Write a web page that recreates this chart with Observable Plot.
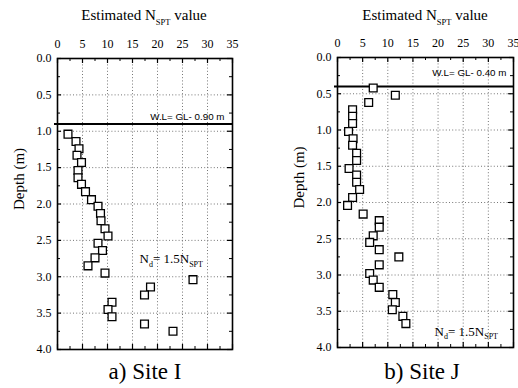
<!DOCTYPE html>
<html><head><meta charset="utf-8">
<script src="https://cdn.jsdelivr.net/npm/d3@7"></script>
<script src="https://cdn.jsdelivr.net/npm/@observablehq/plot@0.6"></script>
<style>
body{margin:0;background:#fff;}
#wrap{position:relative;width:518px;height:388px;overflow:hidden;font-family:"Liberation Serif","Times New Roman",serif;color:#000;}
#wrap svg{position:absolute;top:0;}
#wrap svg text{font-family:"Liberation Serif","Times New Roman",serif;}
#wrap svg text.sans{font-family:"Liberation Sans",Arial,sans-serif;}
.title{position:absolute;font-size:15px;line-height:1;white-space:nowrap;transform:translateX(-50%);}
.title sub{font-size:8.5px;vertical-align:baseline;position:relative;top:5px;}
.cap{position:absolute;font-size:23px;line-height:1;white-space:nowrap;transform:translateX(-50%);}
</style></head><body><div id="wrap"></div>
<script>
// Site I (a)
const siteIDepth = [1.04,1.14,1.24,1.33,1.43,1.54,1.64,1.73,1.83,1.94,2.03,2.13,2.23,2.34,2.44,2.54,2.64,2.74,2.85,2.95,3.04,3.14,3.25,3.35,3.45,3.55,3.65,3.75];
const siteIN     = [2.1,3.7,4.3,3.9,4.8,4.1,4.1,4.8,5.6,6.8,8.1,8.6,8.7,9.5,10.1,8.1,9.0,7.5,6.1,9.5,27.1,18.6,17.4,10.9,10.1,10.9,17.4,23.1];
// Site J (b)
const siteJDepth = [0.42,0.52,0.62,0.72,0.81,0.91,1.02,1.12,1.21,1.32,1.42,1.53,1.62,1.72,1.82,1.93,2.04,2.16,2.25,2.34,2.46,2.55,2.65,2.75,2.86,2.98,3.07,3.17,3.27,3.38,3.48,3.57,3.67];
const siteJN     = [7.1,11.5,6.2,3.0,3.0,3.0,2.2,3.1,3.0,3.8,3.8,2.3,3.8,3.8,4.4,3.0,2.0,5.1,8.3,8.3,7.1,6.4,8.3,12.2,8.3,6.4,7.1,8.3,11.0,11.5,10.9,13.0,13.6];
// water levels (m below ground)
const waterLevelI = 0.90;
const waterLevelJ = 0.40;
// axis ticks
const xTicks = [0,5,10,15,20,25,30,35];
const xMinorTicks = [2.5,7.5,12.5,17.5,22.5,27.5,32.5];
const yTicks = [0,0.5,1,1.5,2,2.5,3,3.5,4];
const yMinorTicks = [0.25,0.75,1.25,1.75,2.25,2.75,3.25,3.75];
// texts
const titleText = ["Estimated N", "SPT", " value"];
const yLabel = "Depth (m)";
const captions = ["a) Site I", "b) Site J"];
const wlTexts = ["W.L= GL- 0.90 m", "W.L= GL- 0.40 m"];
const relText = "N_d= 1.5N_SPT";

function subscriptify(svg) {
  const NS = "http://www.w3.org/2000/svg";
  svg.querySelectorAll("text").forEach(t => {
    if (t.textContent !== relText) return;
    while (t.firstChild) t.removeChild(t.firstChild);
    const parts = [["N",0,null],["d",3.5,"8px"],["= 1.5N",-3.5,null],["SPT",3.5,"8px"],["",-3.5,null]];
    parts.forEach(([s,dy,fs]) => {
      const sp = document.createElementNS(NS, "tspan");
      if (dy) sp.setAttribute("dy", dy);
      if (fs) sp.setAttribute("font-size", fs);
      sp.textContent = s;
      t.appendChild(sp);
    });
  });
}

function panel({depths, ns, wl, wlText, wlPos, relPos, left, width, mt, mb, ml, mr}) {
  const height = 388;
  const H = height - mt - mb;
  const W = width - ml - mr;
  const data = depths.map((d, i) => ({d, n: ns[i]}));
  const svg = Plot.plot({
    width, height,
    marginTop: mt, marginBottom: mb, marginLeft: ml, marginRight: mr,
    style: {fontSize: "11.5px", background: "transparent", overflow: "visible", color: "#000"},
    x: {domain: [0, 35]},
    y: {domain: [0, 4], reverse: true},
    marks: [
      Plot.gridX(xTicks, {stroke: "#666", strokeOpacity: 1, strokeWidth: 0.9, strokeDasharray: "1,2.2"}),
      Plot.gridY(yTicks, {stroke: "#666", strokeOpacity: 1, strokeWidth: 0.9, strokeDasharray: "1,2.2"}),
      // inward ticks on all four sides
      Plot.tickX(xTicks, {x: d => d, insetBottom: H - 5, strokeWidth: 1.2}),
      Plot.tickX(xMinorTicks, {x: d => d, insetBottom: H - 3, strokeWidth: 1}),
      Plot.tickX(xTicks, {x: d => d, insetTop: H - 5, strokeWidth: 1.2}),
      Plot.tickX(xMinorTicks, {x: d => d, insetTop: H - 3, strokeWidth: 1}),
      Plot.tickY(yTicks, {y: d => d, insetLeft: W - 5, strokeWidth: 1.2}),
      Plot.tickY(yMinorTicks, {y: d => d, insetLeft: W - 3, strokeWidth: 1}),
      Plot.tickY(yTicks, {y: d => d, insetRight: W - 4, strokeWidth: 1.2}),
      Plot.tickY(yMinorTicks, {y: d => d, insetRight: W - 3, strokeWidth: 1}),
      Plot.axisX(xTicks, {anchor: "top", tickSize: 0, tickPadding: 11, label: null, fontSize: 12}),
      Plot.axisY(yTicks, {anchor: "left", tickSize: 0, tickPadding: 6, label: null, tickFormat: d3.format(".1f"), fontSize: 12}),
      Plot.text([yLabel], {frameAnchor: "left", dx: -38, dy: 6, rotate: -90, fontSize: 15}),
      Plot.frame({stroke: "#000", strokeWidth: 1.6}),
      Plot.ruleY([wl], {strokeWidth: 2, insetLeft: -3}),
      Plot.text([wlText], {x: wlPos[0], y: wlPos[1], textAnchor: "end", fontSize: 9.8}),
      Plot.dot(data, {x: "n", y: "d", symbol: "square", r: 4.4, fill: "white", stroke: "#000", strokeWidth: 1.3}),
      Plot.text([relText], {x: relPos[0], y: relPos[1], textAnchor: "start", fontSize: 13})
    ]
  });
  svg.style.left = left + "px";
  svg.querySelectorAll("text").forEach(t => {
    if (t.textContent.startsWith("W.L")) t.classList.add("sans");
  });
  subscriptify(svg);
  return svg;
}

const wrap = document.getElementById("wrap");
wrap.appendChild(panel({depths: siteIDepth, ns: siteIN, wl: waterLevelI, wlText: wlTexts[0], wlPos: [33.4, 0.8], relPos: [16.4, 2.76],
  left: 0, width: 259, mt: 58, mb: 39, ml: 57, mr: 27}));
wrap.appendChild(panel({depths: siteJDepth, ns: siteJN, wl: waterLevelJ, wlText: wlTexts[1], wlPos: [33.6, 0.21], relPos: [19.3, 3.78],
  left: 259, width: 259, mt: 57, mb: 41, ml: 78, mr: 5}));

function addTitle(cx) {
  const div = document.createElement("div");
  div.className = "title";
  div.style.left = cx + "px";
  div.style.top = "8px";
  div.innerHTML = `${titleText[0]}<sub>${titleText[1]}</sub>${titleText[2]}`;
  wrap.appendChild(div);
}
addTitle(144); addTitle(425);
function addCap(cx, text) {
  const div = document.createElement("div");
  div.className = "cap";
  div.style.left = cx + "px";
  div.style.top = "360px";
  div.textContent = text;
  wrap.appendChild(div);
}
addCap(145, captions[0]); addCap(422, captions[1]);
</script></body></html>
